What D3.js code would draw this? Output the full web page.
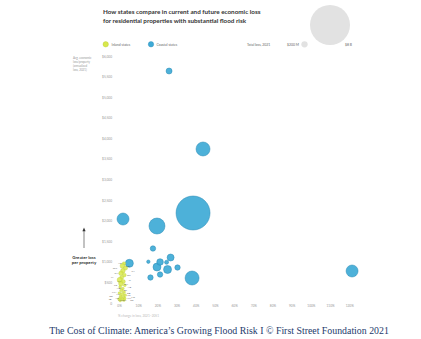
<!DOCTYPE html>
<html>
<head>
<meta charset="utf-8">
<script src="https://cdn.jsdelivr.net/npm/d3@7/dist/d3.min.js"></script>
<style>
  html, body { margin: 0; padding: 0; background: #fff; }
  svg { display: block; }
  .sans { font-family: Lato, "Open Sans", "DejaVu Sans", sans-serif; }
</style>
</head>
<body>
<div id="chart"></div>
<script>
// Coastal states: [x = % change in avg. loss 2021–2051, y = avg. loss per property 2021 ($), total loss 2021 ($M)]
const coastalNames  = ["FL","NJ","LA","NY","TX","CA","HI","SC","DE","NC","MA","VA","GA","CT","MD","WA","RI","ME"];
const coastalChange = [26.1, 43.8, 38.6, 2.1, 19.8, 38.1, 121.5, 17.7, 15.3, 21.4, 19.8, 26.9, 25.3, 30.5, 21.4, 16.4, 24.8, 5.4];
const coastalLoss   = [5635, 3741, 2186, 2040, 1870, 607, 777, 1324, 1003, 996, 874, 1105, 814, 862, 692, 619, 989, 964];
const coastalTotal  = [180, 980, 5780, 720, 1280, 980, 720, 146, 58, 218, 320, 245, 320, 146, 146, 146, 80, 320];

// Inland states, same fields
const inlandNames  = ["AR","MO","WV","KY","TN","OK","IA","IL","IN","OH","KS","NE","ND","WI","MN","SD","MI","VT","CO","MT","AZ","NM","ID","UT","NV","WY"];
const inlandChange = [2.6, 1.8, 3.4, 2.0, 1.0, 2.8, 1.4, 0.4, 2.2, 1.0, 3.0, 0.6, 2.0, 1.2, 2.6, 0.2, 1.6, 3.2, 0.8, 2.4, 1.0, 3.0, 0.0, 1.8, 2.6, 0.6];
const inlandLoss   = [960, 900, 850, 780, 720, 680, 620, 560, 520, 470, 430, 390, 350, 310, 270, 240, 210, 190, 160, 140, 120, 110, 95, 80, 70, 60];
const inlandTotal  = [60, 120, 90, 110, 100, 70, 80, 140, 90, 110, 40, 40, 25, 50, 45, 15, 60, 12, 30, 15, 30, 12, 10, 12, 10, 5];

// Axis ticks and bubble-size legend
const yTicks = [0, 500, 1000, 1500, 2000, 2500, 3000, 3500, 4000, 4500, 5000, 5500, 6000];
const xTicks = [0, 10, 20, 30, 40, 50, 60, 70, 80, 90, 100, 110, 120];
const sizeLegendValues = [200, 8000];
const sizeLegendLabels = ["$200 M", "$8 B"];

const titleLines = [
  "How states compare in current and future economic loss",
  "for residential properties with substantial flood risk"
];
const yTitleLines = ["Avg. economic", "loss/property", "(annualized", "loss, 2021)"];

const W = 421, H = 339;
const svg = d3.select("#chart").append("svg").attr("width", W).attr("height", H);

const x = d3.scaleLinear().domain([0, 120]).range([119, 349.2]);
const y = d3.scaleLinear().domain([0, 6000]).range([303, 56]);
const r = d3.scaleSqrt().domain([0, 8000]).range([0, 20]);

const COASTAL = "#3eaad6", COASTAL_EDGE = "#2a8bb5";
const INLAND = "#d8e84c", INLAND_EDGE = "#b9c936";

// Title
svg.append("g").selectAll("text").data(titleLines).join("text")
  .attr("class", "sans")
  .attr("x", 103).attr("y", (d, i) => 14 + i * 9)
  .attr("font-size", 6.3).attr("font-weight", 700).attr("fill", "#333")
  .text(d => d);

// Colour legend
const leg = svg.append("g").attr("class", "sans").attr("font-size", 3.4).attr("fill", "#666");
leg.append("circle").attr("cx", 105.7).attr("cy", 44.3).attr("r", 2.7).attr("fill", INLAND).attr("stroke", INLAND_EDGE).attr("stroke-width", 0.4);
leg.append("text").attr("x", 111.5).attr("y", 45.5).text("Inland states");
leg.append("circle").attr("cx", 151).attr("cy", 44.3).attr("r", 2.7).attr("fill", COASTAL).attr("stroke", COASTAL_EDGE).attr("stroke-width", 0.4);
leg.append("text").attr("x", 156.5).attr("y", 45.5).text("Coastal states");

// Size legend
leg.append("text").attr("x", 247).attr("y", 45.5).text("Total loss, 2021");
leg.append("text").attr("x", 287).attr("y", 45.5).text(sizeLegendLabels[0]);
leg.append("circle").attr("cx", 304.5).attr("cy", 44.3).attr("r", r(sizeLegendValues[0])).attr("fill", "#e2e2e2");
leg.append("circle").attr("cx", 330).attr("cy", 25).attr("r", r(sizeLegendValues[1])).attr("fill", "#e2e2e2");
leg.append("text").attr("x", 345).attr("y", 45.5).text(sizeLegendLabels[1]);

// Y axis
const yAxis = svg.append("g").attr("class", "sans").attr("transform", "translate(112,0)")
  .call(d3.axisLeft(y).tickValues(yTicks).tickSize(0).tickPadding(0)
    .tickFormat(d => d === 0 ? "0" : "$" + d3.format(",")(d)));
yAxis.select(".domain").remove();
yAxis.selectAll("text").attr("font-size", 3.2).attr("fill", "#999").attr("font-family", null);

// X axis
const xAxis = svg.append("g").attr("class", "sans").attr("transform", "translate(0,305)")
  .call(d3.axisBottom(x).tickValues(xTicks).tickSize(0).tickPadding(0).tickFormat(d => d + "%"));
xAxis.select(".domain").remove();
xAxis.selectAll("text").attr("font-size", 3.2).attr("fill", "#999").attr("font-family", null);

svg.append("text").attr("class", "sans").attr("x", 118).attr("y", 316.5)
  .attr("font-size", 3.2).attr("fill", "#bbb").text("% change in loss, 2021–2051");

// Y title
svg.append("g").selectAll("text").data(yTitleLines).join("text")
  .attr("class", "sans").attr("x", 73).attr("y", (d, i) => 58.5 + i * 4)
  .attr("font-size", 2.9).attr("fill", "#999").text(d => d);

// Direction arrow
svg.append("line").attr("x1", 84).attr("x2", 84).attr("y1", 248).attr("y2", 230)
  .attr("stroke", "#333").attr("stroke-width", 0.6);
svg.append("path").attr("d", "M84,227.5 L82.4,231.2 L85.6,231.2 Z").attr("fill", "#333");
svg.append("g").selectAll("text").data(["Greater loss", "per property"]).join("text")
  .attr("class", "sans").attr("x", 84).attr("y", (d, i) => 258.5 + i * 5.5)
  .attr("text-anchor", "middle").attr("font-size", 4.4).attr("font-weight", 700).attr("fill", "#333")
  .text(d => d);

// Bubbles
const coastal = coastalNames.map((n, i) => ({ n, cx: coastalChange[i], cy: coastalLoss[i], t: coastalTotal[i] }));
const inland  = inlandNames.map((n, i) => ({ n, cx: inlandChange[i], cy: inlandLoss[i], t: inlandTotal[i] }));
const inR = d => Math.max(r(d.t), 1.4);

svg.append("g").selectAll("circle").data(coastal.slice().sort((a, b) => b.t - a.t)).join("circle")
  .attr("cx", d => x(d.cx)).attr("cy", d => y(d.cy)).attr("r", d => r(d.t))
  .attr("fill", COASTAL).attr("fill-opacity", 0.92)
  .attr("stroke", COASTAL_EDGE).attr("stroke-width", 0.5);

svg.append("g").selectAll("circle").data(inland).join("circle")
  .attr("cx", d => x(d.cx)).attr("cy", d => y(d.cy)).attr("r", inR)
  .attr("fill", INLAND).attr("fill-opacity", 0.85)
  .attr("stroke", INLAND_EDGE).attr("stroke-width", 0.3);

// Inland labels in four staggered columns (near/far, left/right) so they stay apart
const labelRight = i => i % 2 === 1;
const labelFar = i => (i % 4) >= 2;
svg.append("g").selectAll("text").data(inland).join("text")
  .attr("class", "sans")
  .attr("x", (d, i) => {
    const off = inR(d) + 0.8 + (labelFar(i) ? 5.5 : 0);
    return labelRight(i) ? x(d.cx) + off : x(d.cx) - off;
  })
  .attr("y", d => y(d.cy) + 0.9)
  .attr("text-anchor", (d, i) => labelRight(i) ? "start" : "end")
  .attr("font-size", 2.5).attr("fill", "#555").text(d => d.n);

// Source line
svg.append("text").attr("x", 219).attr("y", 334).attr("text-anchor", "middle")
  .attr("font-family", "'Liberation Serif', 'Times New Roman', serif")
  .attr("font-size", 9.85).attr("fill", "#1d3a6b")
  .text("The Cost of Climate: America\u2019s Growing Flood Risk I \u00a9 First Street Foundation 2021");
</script>
</body>
</html>
